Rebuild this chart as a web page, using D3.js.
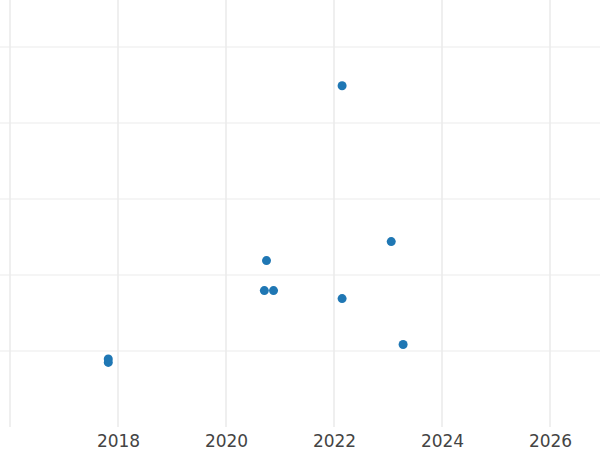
<!DOCTYPE html>
<html>
<head>
<meta charset="utf-8">
<script src="https://cdn.jsdelivr.net/npm/d3@7"></script>
<style>
  html, body { margin: 0; padding: 0; background: #fff; }
  svg { display: block; }
</style>
</head>
<body>
<svg id="chart" width="600" height="450"></svg>
<script>
// Data (y units are relative; gridlines at 1..5)
const years  = [2017.82, 2017.82, 2020.71, 2020.75, 2020.88, 2022.15, 2022.15, 2023.06, 2023.28];
const values = [0.895,   0.85,    1.795,   2.19,    1.795,   4.49,    1.69,    2.44,    1.085];
const xTicks = [2016, 2018, 2020, 2022, 2024, 2026];
const xTickLabels = ["", "2018", "2020", "2022", "2024", "2026"];
const yTicks = [1, 2, 3, 4, 5];

const svg = d3.select("#chart");
const W = 600, H = 450;
const plotBottom = 427;

const x = d3.scaleLinear().domain([2016, 2026]).range([10, 550]);
const y = d3.scaleLinear().domain([0, 5]).range([plotBottom, 47]);

const grid = svg.append("g");
grid.selectAll("line.h").data(yTicks).join("line")
  .attr("class", "h")
  .attr("x1", 0).attr("x2", W)
  .attr("y1", d => y(d)).attr("y2", d => y(d))
  .attr("stroke", "#ebebeb").attr("stroke-width", 1);

grid.selectAll("line.v").data(xTicks).join("line")
  .attr("class", "v")
  .attr("x1", d => x(d)).attr("x2", d => x(d))
  .attr("y1", 0).attr("y2", plotBottom)
  .attr("stroke", "#ebebeb").attr("stroke-width", 1.6);

const xAxis = d3.axisBottom(x).tickValues(xTicks)
  .tickFormat((d, i) => xTickLabels[i]).tickSize(0).tickPadding(8);
const gx = svg.append("g").attr("transform", `translate(0,${plotBottom})`).call(xAxis);
gx.select(".domain").remove();
gx.selectAll("text")
  .attr("font-family", "DejaVu Sans, sans-serif")
  .attr("font-size", 17)
  .attr("fill", "#444");

svg.append("g").selectAll("circle")
  .data(years.map((yr, i) => ({ yr, v: values[i] })))
  .join("circle")
  .attr("cx", d => x(d.yr))
  .attr("cy", d => y(d.v))
  .attr("r", 4.5)
  .attr("fill", "#1f77b4");
</script>
</body>
</html>
